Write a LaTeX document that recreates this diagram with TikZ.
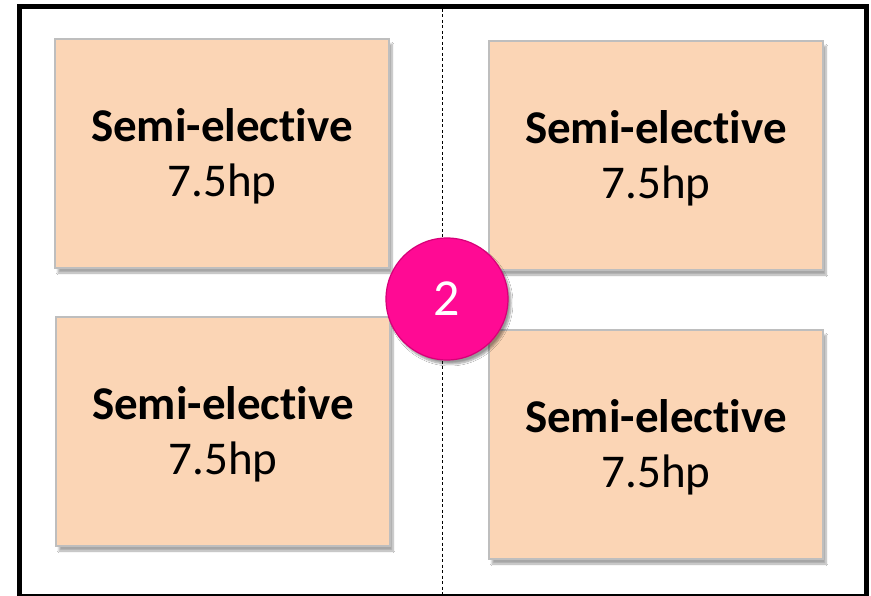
\documentclass[tikz,border=0pt]{standalone}
\usepackage{fontspec}
\setmainfont{Carlito}[Ligatures=NoCommon]
\usetikzlibrary{shadows,shadows.blur}
\definecolor{peach}{RGB}{251,213,181}
\definecolor{boxedge}{RGB}{190,190,190}
\definecolor{pinkball}{RGB}{255,10,148}
\definecolor{pinkdark}{RGB}{215,0,120}
\tikzset{
  courseblock/.style={draw=boxedge, line width=1.5pt, fill=peach,
    minimum width=334pt, minimum height=229pt, inner sep=0pt,
    blur shadow={shadow xshift=3pt, shadow yshift=-5pt, shadow blur steps=8, shadow opacity=35},
    font=\fontsize{47}{55}\selectfont, align=center},
  coursetext/.style={font=\fontsize{47}{55}\selectfont, align=center, inner sep=0pt},
  markball/.style={circle, minimum size=122pt, inner sep=0pt,
    fill=pinkball, draw=pinkdark, line width=1.2pt,
    blur shadow={shadow xshift=3pt, shadow yshift=-4pt, shadow blur steps=8, shadow opacity=40},
    text=white, font=\fontsize{52}{56}\selectfont}
}
\newcommand{\coursetxt}{\textbf{Semi-elective}\\7.5hp}
\begin{document}
\begin{tikzpicture}[x=1pt,y=-1pt]
  \useasboundingbox (0,0) rectangle (871,596);
  \fill[white] (0,0) rectangle (871,596);
  % outer frame
  \draw[line width=5pt] (19,6.5) rectangle (866,596);
  % centre divider
  \draw[dashed, line width=0.6pt, dash pattern=on 3pt off 2.5pt] (442,9) -- (442,594);
  % four course blocks, labels set slightly below centre
  \node[courseblock] (tl) at (222,153.5) {};
  \node[coursetext] (tlt) at ([yshift=-3pt]tl.center) {\coursetxt};
  \node[courseblock] (bl) at (223,431.5) {};
  \node[coursetext] (blt) at ([yshift=-3pt]bl.center) {\coursetxt};
  \node[courseblock] (tr) at (656,155.5) {};
  \node[coursetext] (trt) at ([yshift=-3pt]tr.center) {\coursetxt};
  \node[courseblock] (br) at (656,444.5) {};
  \node[coursetext] (brt) at ([yshift=-3pt]br.center) {\coursetxt};
  % period marker
  \node[markball] (mark) at (447,299) {2};
\end{tikzpicture}
\end{document}
